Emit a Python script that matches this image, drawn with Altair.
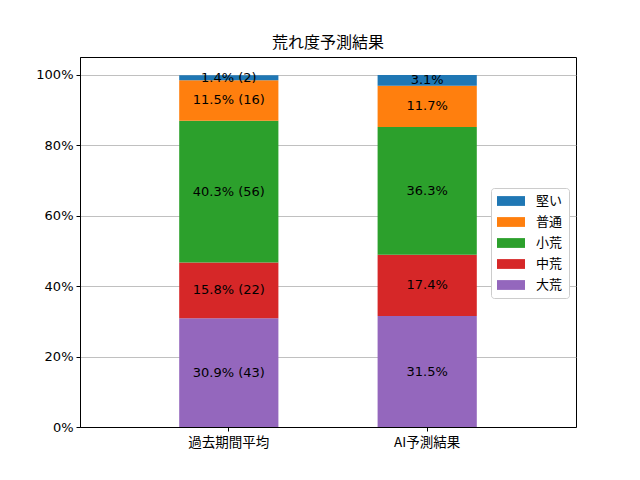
import altair as alt
import pandas as pd

categories = ["過去期間平均", "AI予測結果"]
levels = ["大荒", "中荒", "小荒", "普通", "堅い"]  # bottom -> top
legend_order = ["堅い", "普通", "小荒", "中荒", "大荒"]
colors = ["#1f77b4", "#ff7f0e", "#2ca02c", "#d62728", "#9467bd"]  # for legend_order
past_pct = [30.9, 15.8, 40.3, 11.5, 1.4]
past_cnt = [43, 22, 56, 16, 2]
ai_pct = [31.5, 17.4, 36.3, 11.7, 3.1]
y_ticks = [0, 20, 40, 60, 80, 100]

rows = []
for i, lv in enumerate(levels):
    rows.append({"cat": categories[0], "level": lv, "ord": i, "pct": past_pct[i],
                 "label": f"{past_pct[i]:.1f}% ({past_cnt[i]})"})
    rows.append({"cat": categories[1], "level": lv, "ord": i, "pct": ai_pct[i],
                 "label": f"{ai_pct[i]:.1f}%"})
df = pd.DataFrame(rows)

JP = "Noto Sans CJK JP, DejaVu Sans"

base = alt.Chart(df).transform_stack(
    stack="pct", as_=["y0", "y1"], groupby=["cat"], sort=[{"field": "ord", "order": "ascending"}]
).transform_calculate(mid="(datum.y0 + datum.y1) / 2")

xenc = alt.X("cat:N", sort=categories, title=None,
             scale=alt.Scale(paddingInner=0.5, paddingOuter=0.5),
             axis=alt.Axis(labelAngle=0, labelFont=JP, labelFontSize=13.5, labelColor="black",
                           tickColor="black", domainColor="black", labelPadding=4, tickSize=4))

bars = base.mark_bar().encode(
    x=xenc,
    y=alt.Y("y0:Q", title=None,
            scale=alt.Scale(domain=[0, 105.1], nice=False, zero=True),
            axis=alt.Axis(values=y_ticks, labelExpr="datum.value + '%'", grid=True,
                          gridColor="#b0b0b0", gridWidth=0.8, labelFont="DejaVu Sans",
                          labelFontSize=13, labelColor="black", tickColor="black",
                          domainColor="black", tickSize=4, labelPadding=3)),
    y2="y1:Q",
    color=alt.Color("level:N", scale=alt.Scale(domain=legend_order, range=colors),
                    legend=alt.Legend(title=None, orient="none", legendX=411, legendY=131,
                                      symbolType="M-1,-0.7H3V0.7H-1Z", symbolSize=196,
                                      symbolStrokeWidth=0, labelFont=JP, labelFontSize=13,
                                      labelColor="black", rowPadding=7, padding=6,
                                      fillColor="white", strokeColor="#cccccc",
                                      cornerRadius=3, labelOffset=25)),
)

texts = base.mark_text(font="DejaVu Sans", fontSize=13, color="black").encode(
    x=alt.X("cat:N", sort=categories),
    y=alt.Y("mid:Q"),
    text="label:N",
)

chart = (bars + texts).properties(
    width=496, height=370,
    title=alt.TitleParams("荒れ度予測結果", font=JP, fontSize=16, fontWeight="normal",
                          color="black", offset=6),
    padding={"left": 72, "top": 49, "right": 56, "bottom": 45},
    autosize=alt.AutoSizeParams(type="none"),
).configure_view(stroke="black", strokeWidth=1).configure_axis(domain=True)

chart.save("out.html", embed_options={"renderer": "svg", "actions": False})
